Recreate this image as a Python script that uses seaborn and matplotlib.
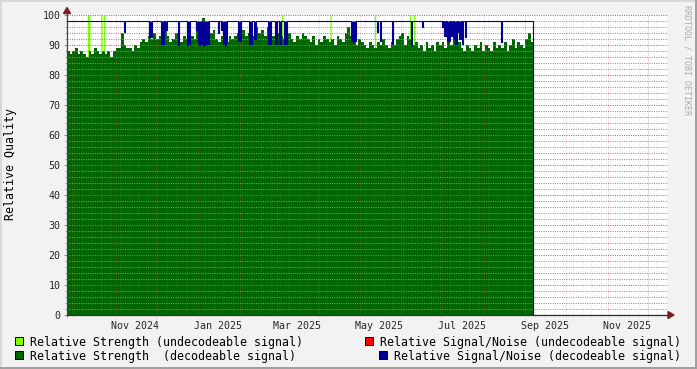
import numpy as np
import pandas as pd
import matplotlib
matplotlib.use("Agg")
import matplotlib.pyplot as plt
import seaborn as sns
from matplotlib.patches import Rectangle, Polygon

sns.set_style("white")
plt.rcParams["font.family"] = ["DejaVu Sans Mono"]

# ---------------- data ----------------
START = pd.Timestamp("2024-09-26 08:00")      # left edge of the time axis
AXIS_END = pd.Timestamp("2025-12-16 03:00")   # right edge of the time axis
STRENGTH_STEP_DAYS = 2                         # consolidation step of strength
SNR_STEP_DAYS = 1                              # consolidation step of S/N

# Relative Strength (decodeable signal), one value per 2-day sample
strength_decodeable = [
    88, 87, 88, 89, 87, 88, 87, 86, 88, 87,
    89, 88, 87, 88, 87, 88, 86, 88, 89, 89,
    94, 90, 89, 89, 88, 90, 89, 91, 92, 91,
    93, 92, 94, 92, 93, 92, 95, 93, 91, 92,
    94, 92, 91, 93, 92, 94, 93, 92, 95, 94,
    99, 95, 96, 94, 95, 92, 91, 93, 92, 91,
    93, 92, 93, 94, 92, 95, 93, 94, 92, 93,
    96, 94, 95, 93, 96, 94, 93, 92, 94, 93,
    92, 93, 94, 92, 91, 93, 92, 94, 93, 92,
    91, 93, 90, 92, 91, 93, 92, 91, 92, 90,
    93, 92, 91, 94, 96, 93, 91, 90, 92, 91,
    90, 89, 91, 90, 89, 91, 90, 92, 90, 89,
    91, 90, 92, 93, 94, 90, 93, 92, 90, 91,
    89, 90, 88, 91, 89, 90, 88, 91, 90, 91,
    89, 92, 90, 93, 90, 91, 89, 88, 90, 89,
    88, 90, 89, 91, 88, 90, 89, 88, 91, 89,
    90, 89, 91, 88, 90, 92, 89, 91, 90, 89,
    92, 94, 91,
]

# Relative Signal/Noise (decodeable signal), one value per day
snr_decodeable = [
    98, 98, 98, 98, 98, 98, 98, 98, 98, 98, 98, 98, 98, 98, 98, 98, 98, 98, 98, 98,
    98, 98, 98, 98, 98, 98, 98, 98, 98, 98, 98, 98, 98, 98, 98, 98, 98, 98, 98, 98,
    98, 98, 94.3, 98, 98, 98, 98, 98, 98, 98, 98, 98, 98, 98, 98, 98, 98, 98, 98, 98,
    98, 92.7, 92.7, 98, 98, 98, 98, 98, 98, 98, 90.4, 90.4, 98, 95, 98, 98, 98, 98, 98, 98,
    98, 98, 90, 98, 98, 98, 98, 98, 98, 90, 90.5, 98, 98, 98, 98, 98, 95, 91, 90, 90.5,
    92, 90, 91, 90.4, 90.4, 98, 98, 98, 98, 98, 98, 98, 94, 98, 95, 95, 90.4, 90, 91, 98,
    98, 98, 98, 98, 98, 98, 98, 91.5, 91.5, 98, 98, 98, 98, 98, 98, 90.4, 90.4, 98, 98, 92,
    98, 98, 98, 98, 98, 98, 98, 98, 98, 90.4, 90.4, 98, 98, 98, 90.4, 90.4, 98, 90.4, 90.4, 98,
    98, 90.4, 90.4, 98, 98, 98, 98, 98, 98, 98, 98, 98, 98, 98, 98, 98, 98, 98, 98, 98,
    98, 98, 98, 98, 98, 98, 98, 98, 98, 98, 98, 98, 98, 98, 98, 98, 98, 98, 98, 98,
    98, 98, 98, 98, 98, 98, 98, 98, 98, 98, 98, 91.5, 91, 91.5, 98, 98, 98, 98, 98, 98,
    98, 98, 98, 98, 98, 98, 98, 98, 98, 98, 94.3, 98, 91.5, 98, 98, 98, 98, 98, 98, 98,
    98, 90.4, 98, 98, 98, 98, 98, 98, 98, 98, 98, 98, 98, 98, 98, 90, 98, 98, 98, 98,
    98, 98, 98, 96, 98, 98, 98, 98, 98, 98, 98, 98, 98, 98, 98, 98, 98, 98, 96, 98,
    93, 98, 91.5, 91.5, 98, 93, 98, 92, 90.4, 98, 94.3, 92, 98, 90.4, 98, 92.7, 98, 98, 98, 98,
    98, 98, 98, 98, 98, 98, 98, 98, 98, 98, 98, 98, 98, 98, 98, 98, 98, 98, 98, 98,
    98, 98, 91, 98, 98, 98, 98, 98, 98, 98, 98, 98, 98, 98, 98, 98, 98, 98, 98, 98,
    98, 98, 98, 98, 98, 98,
]
snr_after_end = 0.0   # line drops to zero once data stops

# Relative Strength (undecodeable signal): days with undecodeable reports
undecodeable_days = [15, 16, 25, 27, 159, 195, 228, 254, 257]
strength_undecodeable = [100, 100, 100, 100, 100, 100, 100, 100, 100]

month_labels = ["Nov 2024", "Jan 2025", "Mar 2025", "May 2025",
                "Jul 2025", "Sep 2025", "Nov 2025"]
y_ticks = [0, 10, 20, 30, 40, 50, 60, 70, 80, 90, 100]

legend_labels = [
    "Relative Strength (undecodeable signal)",
    "Relative Strength  (decodeable signal)",
    "Relative Signal/Noise (undecodeable signal)",
    "Relative Signal/Noise (decodeable signal)",
]

# ---------------- styles ----------------
W, H = 697, 369
BACK = "#F2F2F2"
LIGHT_GREEN = "#80FF00"
DARK_GREEN = "#006600"
RED = "#FF0000"
BLUE = "#000099"
ARROW = "#7F1F1F"
GRID_MIN = (0.56, 0.56, 0.56, 0.22)
GRID_MAJ = (0.87, 0.31, 0.31, 0.32)
DOT = (0, (1, 1.3))


def fx(x):
    return x / W


def fy(y):
    return 1 - y / H


def day_of(ts):
    return (pd.Timestamp(ts) - START) / pd.Timedelta(days=1)


fig = plt.figure(figsize=(W / 100, H / 100), dpi=100, facecolor=BACK)
ax = fig.add_axes([fx(67), fy(315), (668 - 67) / W, 300 / H])
ax.set_facecolor("white")

n = len(strength_decodeable)
n_snr = len(snr_decodeable)
end_day = day_of(AXIS_END)
data_end = n * STRENGTH_STEP_DAYS

df_dec = pd.DataFrame({"day": np.arange(n) * STRENGTH_STEP_DAYS + 0.5,
                       "strength": np.array(strength_decodeable, float)})
df_und = pd.DataFrame({"day": np.array(undecodeable_days, float) + 0.5,
                       "strength": np.array(strength_undecodeable, float)})

# undecodeable strength (drawn first, behind)
sns.histplot(data=df_und, x="day", weights="strength", binwidth=1,
             binrange=(0, data_end), element="step", fill=True,
             color=LIGHT_GREEN, alpha=1, linewidth=0, ax=ax, zorder=1)
# decodeable strength
sns.histplot(data=df_dec, x="day", weights="strength", binwidth=STRENGTH_STEP_DAYS,
             binrange=(0, data_end), element="step", fill=True,
             color=DARK_GREEN, alpha=1, linewidth=0, ax=ax, zorder=1.1)

# decodeable S/N line
snr_days = np.arange(n_snr) * SNR_STEP_DAYS
snr_vals = np.array(snr_decodeable, float)
snr_x = list(snr_days) + [n_snr * SNR_STEP_DAYS, end_day]
snr_y = list(snr_vals) + [snr_after_end, snr_after_end]
df_snr = pd.DataFrame({"day": np.array(snr_x, float), "snr": np.array(snr_y, float)})
sns.lineplot(data=df_snr, x="day", y="snr", drawstyle="steps-post", color=BLUE,
             linewidth=0.8, estimator=None, sort=False, ax=ax, zorder=3)
# narrow dips render as solid blocks at this resolution
ax.fill_between(np.append(snr_days, n_snr * SNR_STEP_DAYS),
                np.append(snr_vals, snr_vals[-1]), snr_vals.max(),
                step="post", color=BLUE, linewidth=0, zorder=2.95)

ax.set_xlim(0, end_day)
ax.set_ylim(0, 100)
ax.set_xlabel("")
ax.set_ylabel("")
for s in ax.spines.values():
    s.set_visible(False)

# grid: weekly (minor) and monthly (major) vertical lines
weeks = pd.date_range(START, AXIS_END, freq="W-MON")
months = pd.date_range(START, AXIS_END, freq="MS")
ax.vlines([day_of(t) for t in weeks], -0.7, 100, colors=[GRID_MIN],
          linestyles=[DOT], linewidth=0.72, zorder=2.6, clip_on=False)
ax.vlines([day_of(t) for t in months], -1.0, 100, colors=[GRID_MAJ],
          linestyles=[DOT], linewidth=0.72, zorder=2.7, clip_on=False)

# y grid
ax.set_yticks(y_ticks)
ax.set_yticks(np.arange(0, 101, 2), minor=True)
ax.set_axisbelow(False)
ax.grid(axis="y", which="major", color=GRID_MAJ, linestyle=DOT, linewidth=0.72)
ax.grid(axis="y", which="minor", color=GRID_MIN, linestyle=DOT, linewidth=0.72)
ax.grid(axis="x", visible=False)
ax.tick_params(axis="y", which="major", length=2.2, width=0.72,
               color="#909090", pad=2.6, labelsize=7.2, left=True)
ax.tick_params(axis="y", which="minor", length=1.4, width=0.72,
               color="#B0B0B0", left=True)

# x labels centered mid-month
label_pos = [day_of(pd.to_datetime(m, format="%b %Y")) + 15 for m in month_labels]
ax.set_xticks(label_pos)
ax.set_xticklabels(month_labels)
ax.tick_params(axis="x", which="major", length=0, pad=4.0, labelsize=7.2)

# axes lines and arrows
fig.add_artist(plt.Line2D([fx(67), fx(67)], [fy(315.5), fy(12)],
                          color="#404040", lw=0.9, zorder=5))
fig.add_artist(plt.Line2D([fx(66.5), fx(669)], [fy(315.2), fy(315.2)],
                          color="#303030", lw=0.9, zorder=4))
fig.add_artist(Polygon([(fx(67), fy(7.5)), (fx(63.5), fy(13.5)), (fx(70.5), fy(13.5))],
                       closed=True, color=ARROW, zorder=6))
fig.add_artist(Polygon([(fx(674), fy(315)), (fx(668), fy(311.5)), (fx(668), fy(318.5))],
                       closed=True, color=ARROW, zorder=6))

# titles
fig.text(fx(11), fy(164), "Relative Quality", rotation=90, ha="center",
         va="center", fontsize=8.4, color="black")
fig.text(fx(687), fy(60), "RRDTOOL / TOBI OETIKER", rotation=270, ha="center",
         va="center", fontsize=6.0, color="#ABABAB")

# legend
legend_items = [
    (15, 341, LIGHT_GREEN, legend_labels[0]),
    (15, 355, DARK_GREEN, legend_labels[1]),
    (365, 341, RED, legend_labels[2]),
    (379, 355, BLUE, legend_labels[3]),
]
for x0, yc, col, lab in legend_items:
    fig.add_artist(Rectangle((fx(x0), fy(yc + 4)), 8 / W, 8 / H,
                             facecolor=col, edgecolor="black", lw=0.7))
    fig.text(fx(x0 + 15), fy(yc), lab, ha="left", va="center_baseline",
             fontsize=8.4, color="black")

# frame shading
fig.add_artist(Rectangle((0, 0), 2 / W, 1, color="#D8D8D8", lw=0))
fig.add_artist(Rectangle((0, fy(2)), 1, 2 / H, color="#D8D8D8", lw=0))
fig.add_artist(Rectangle((fx(694.5), 0), 2.5 / W, 1, color="#A0A0A0", lw=0))
fig.add_artist(Rectangle((0, 0), 1, 2.5 / H, color="#A0A0A0", lw=0))

fig.savefig("out.png", dpi=100, facecolor=BACK)
